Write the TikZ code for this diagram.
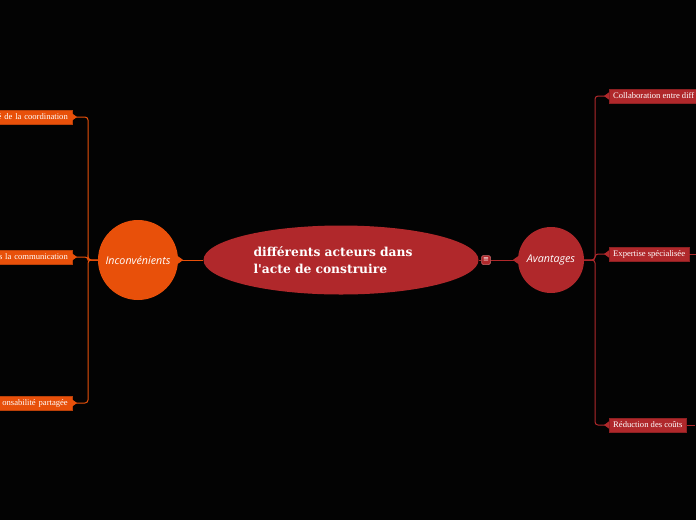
\documentclass[tikz,border=0pt]{standalone}
\usepackage{fontspec}
\setmainfont{Liberation Serif}
\newfontfamily\titlefont{DejaVu Serif}
\newfontfamily\handfont{Open Sans}
\newfontfamily\symfont{DejaVu Sans}
\usetikzlibrary{arrows.meta,shapes.geometric}
\definecolor{cred}{HTML}{B0282B}
\definecolor{corange}{HTML}{E8500A}
\definecolor{bg}{HTML}{030303}
\begin{document}
\begin{tikzpicture}[x=1pt,y=-1pt,
  boxr/.style={fill=cred, draw=cred!80!black, line width=0.4pt, text=white, font=\fontsize{8.6}{9}\selectfont, inner xsep=4pt, inner ysep=0pt, minimum height=14pt},
  boxo/.style={fill=corange, draw=corange!80!black, line width=0.4pt, text=white, font=\fontsize{8.6}{9}\selectfont, inner xsep=4pt, inner ysep=0pt, minimum height=14pt, text width=80pt, align=right},
  bubble/.style={circle, text=white, font=\handfont\itshape\fontsize{10.7}{11}\selectfont, inner sep=0pt},
  connr/.style={draw=cred, line width=1pt, rounded corners=3pt},
  conno/.style={draw=corange, line width=1pt, rounded corners=3pt},
  tip/.style={-{Triangle[reversed, width=7pt, length=5pt]}}
]
\clip (0,0) rectangle (696,520);
\fill[bg] (0,0) rectangle (696,520);

% central topic
\node[ellipse, fill=cred, minimum width=275pt, minimum height=69pt, inner sep=0pt,
      text=white, text width=175pt, align=left,
      font=\titlefont\bfseries\fontsize{12.3}{17}\selectfont] (c) at (341,260)
      {différents acteurs dans\\l'acte de construire};

% icon
\node[rectangle, rounded corners=1.5pt, fill=cred, draw=cred!70!white, line width=0.5pt,
      minimum size=9pt, inner sep=0pt, text=white, font=\symfont\fontsize{7}{7}\selectfont] (ic) at (486,260) {≡};

% main branches
\node[bubble, fill=cred, minimum size=66pt] (av) at (551,260) {Avantages};
\node[bubble, fill=corange, minimum size=80pt] (inc) at (138,260) {Inconvénients};

% right boxes
\node[boxr, anchor=west] (r1) at (609,96) {Collaboration entre diff};
\node[boxr, anchor=west] (r2) at (609,254) {Expertise spécialisée};
\node[boxr, anchor=west] (r3) at (609,425) {Réduction des coûts};

% left boxes
\node[boxo, anchor=east] (l1) at (72,117) {é de la coordination};
\node[boxo, anchor=east] (l2) at (72,257) {s la communication};
\node[boxo, anchor=east] (l3) at (72,403) {onsabilité partagée};

\coordinate (rt) at (595,260);
\coordinate (lt) at (88,260);

% connectors
\draw[connr] (c.east) -- (ic.west);
\draw[connr, tip] (ic.east) -- (av.west);
\draw[conno, tip] (c.west) -- (inc.east);

\draw[connr, tip] (av.east) -- (rt) |- (r1.west);
\draw[connr, tip] (av.east) -- (rt) |- (r2.west);
\draw[connr, tip] (av.east) -- (rt) |- (r3.west);
\draw[connr] (r2.east) -- ++(8,0);
\draw[connr] (r3.east) -- ++(8,0);

\draw[conno, tip] (inc.west) -- (lt) |- (l1.east);
\draw[conno, tip] (inc.west) -- (lt) |- (l2.east);
\draw[conno, tip] (inc.west) -- (lt) |- (l3.east);
\end{tikzpicture}
\end{document}
